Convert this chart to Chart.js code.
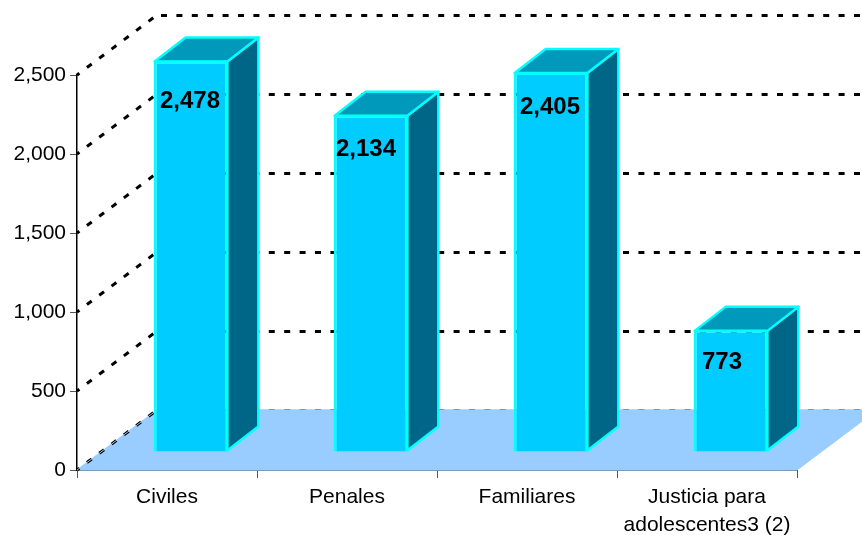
<!DOCTYPE html>
<html lang="en">
<head>
    <meta charset="UTF-8">
    <title>Asuntos por materia</title>
    <script src="https://cdn.jsdelivr.net/npm/chart.js"></script>
    <style>
        body { margin: 0; background: white; }
        canvas { display: block; }
    </style>
</head>
<body>
    <canvas id="chart" width="862" height="535"></canvas>
    <script>
        const categories = ["Civiles", "Penales", "Familiares", ["Justicia para", "adolescentes3 (2)"]];
        const values = [2478, 2134, 2405, 773];
        const valueLabels = ["2,478", "2,134", "2,405", "773"];
        // hand placed labels in the original: shift from bar centre, drop from bar top
        const labelShiftX = [-1, -5, -1, -9];
        const labelDropY = [41, 35, 35, 33];

        // projection of the 3d box
        const depthX = 80, depthY = 60;
        const gapX = depthX * 0.3, gapY = depthY * 0.3;
        const boxX = 31, boxY = 24;

        function poly(ctx, pts, fill, stroke, lw) {
            ctx.beginPath();
            pts.forEach((p, i) => i ? ctx.lineTo(p[0], p[1]) : ctx.moveTo(p[0], p[1]));
            ctx.closePath();
            ctx.fillStyle = fill;
            ctx.fill();
            if (stroke) {
                ctx.strokeStyle = stroke;
                ctx.lineWidth = lw;
                ctx.lineJoin = 'round';
                ctx.stroke();
            }
        }

        const box3d = {
            id: 'box3d',
            beforeDatasetsDraw(chart) {
                const ctx = chart.ctx, y = chart.scales.y, area = chart.chartArea;
                ctx.save();
                // dashed walls
                ctx.strokeStyle = '#000';
                ctx.lineWidth = 3;
                ctx.setLineDash([6, 9.4]);
                ctx.lineDashOffset = -4;
                y.ticks.forEach(t => {
                    const py = Math.round(y.getPixelForValue(t.value));
                    ctx.beginPath();
                    ctx.moveTo(area.left + depthX, py - depthY + 0.5);
                    ctx.lineTo(chart.width, py - depthY + 0.5);
                    ctx.stroke();
                });
                ctx.setLineDash([]);
                // floor
                const b = area.bottom, l = area.left, r = area.right;
                poly(ctx, [[l, b], [r, b], [r + depthX, b - depthY], [l + depthX, b - depthY]], '#99CCFF', '#99CCFF', 1);
                ctx.lineWidth = 3;
                ctx.strokeStyle = '#000';
                ctx.setLineDash([6, 9.4]);
                ctx.lineDashOffset = 3;
                y.ticks.forEach(t => {
                    const py = y.getPixelForValue(t.value);
                    ctx.beginPath();
                    ctx.moveTo(l, py);
                    ctx.lineTo(l + depthX, py - depthY);
                    ctx.stroke();
                });
                ctx.setLineDash([]);
                // floor line through the diagonal dashes
                ctx.strokeStyle = '#99CCFF';
                ctx.lineWidth = 1;
                ctx.beginPath();
                ctx.moveTo(l, b);
                ctx.lineTo(l + depthX, b - depthY);
                ctx.lineTo(chart.width, b - depthY);
                ctx.stroke();
                // side and top of every bar
                chart.getDatasetMeta(0).data.forEach(bar => {
                    const x0 = bar.x - bar.width / 2 + gapX, x1 = bar.x + bar.width / 2 + gapX;
                    const top = bar.y - gapY, base = bar.base - gapY;
                    poly(ctx, [[x1 - 1, top + 1], [x1 - 1 + boxX, top + 1 - boxY], [x1 - 1 + boxX, base - 1 - boxY], [x1 - 1, base - 1]], '#006688', '#00FFFF', 2.5);
                    poly(ctx, [[x0 + 1, top + 1], [x0 + 1 + boxX, top + 1 - boxY], [x1 - 1 + boxX, top + 1 - boxY], [x1 - 1, top + 1]], '#0099BB', '#00FFFF', 2.5);
                });
                ctx.restore();
            },
            beforeDatasetDraw(chart) {
                chart.ctx.save();
                chart.ctx.translate(gapX, -gapY);
            },
            afterDatasetDraw(chart) {
                chart.ctx.restore();
            },
            afterDatasetsDraw(chart) {
                const ctx = chart.ctx;
                ctx.save();
                ctx.fillStyle = '#000';
                ctx.font = 'bold 24px "Liberation Sans"';
                ctx.textAlign = 'center';
                ctx.textBaseline = 'middle';
                chart.getDatasetMeta(0).data.forEach((bar, i) => {
                    ctx.fillText(valueLabels[i], bar.x + gapX + labelShiftX[i], bar.y - gapY + labelDropY[i]);
                });
                ctx.restore();
            }
        };

        new Chart(document.getElementById('chart'), {
            type: 'bar',
            data: {
                labels: categories,
                datasets: [{
                    data: values,
                    backgroundColor: '#00CCFF',
                    borderColor: '#00FFFF',
                    borderWidth: 3,
                    barPercentage: 0.415,
                    categoryPercentage: 1,
                    clip: false
                }]
            },
            options: {
                responsive: false,
                animation: false,
                layout: { padding: { top: 75, right: 65, left: 0, bottom: 0 } },
                plugins: { legend: { display: false }, tooltip: { enabled: false } },
                scales: {
                    x: {
                        afterFit: s => { s.height = 65; },
                        grid: { drawOnChartArea: false, tickLength: 8, tickColor: '#555', offset: true },
                        border: { color: '#5A6B80', width: 2 },
                        ticks: {
                            color: '#000',
                            maxRotation: 0,
                            padding: 6,
                            font: { family: '"Liberation Sans"', size: 21, lineHeight: 1.3 }
                        }
                    },
                    y: {
                        min: 0,
                        max: 2500,
                        afterFit: s => { s.width = 77; },
                        grid: { drawOnChartArea: false, tickLength: 7, tickColor: '#555' },
                        border: { color: '#000', width: 1.5 },
                        ticks: {
                            stepSize: 500,
                            color: '#000',
                            padding: 4,
                            z: 1,
                            font: { family: '"Liberation Sans"', size: 21 },
                            callback: v => v.toLocaleString('en-US')
                        }
                    }
                }
            },
            plugins: [box3d]
        });
    </script>
</body>
</html>
